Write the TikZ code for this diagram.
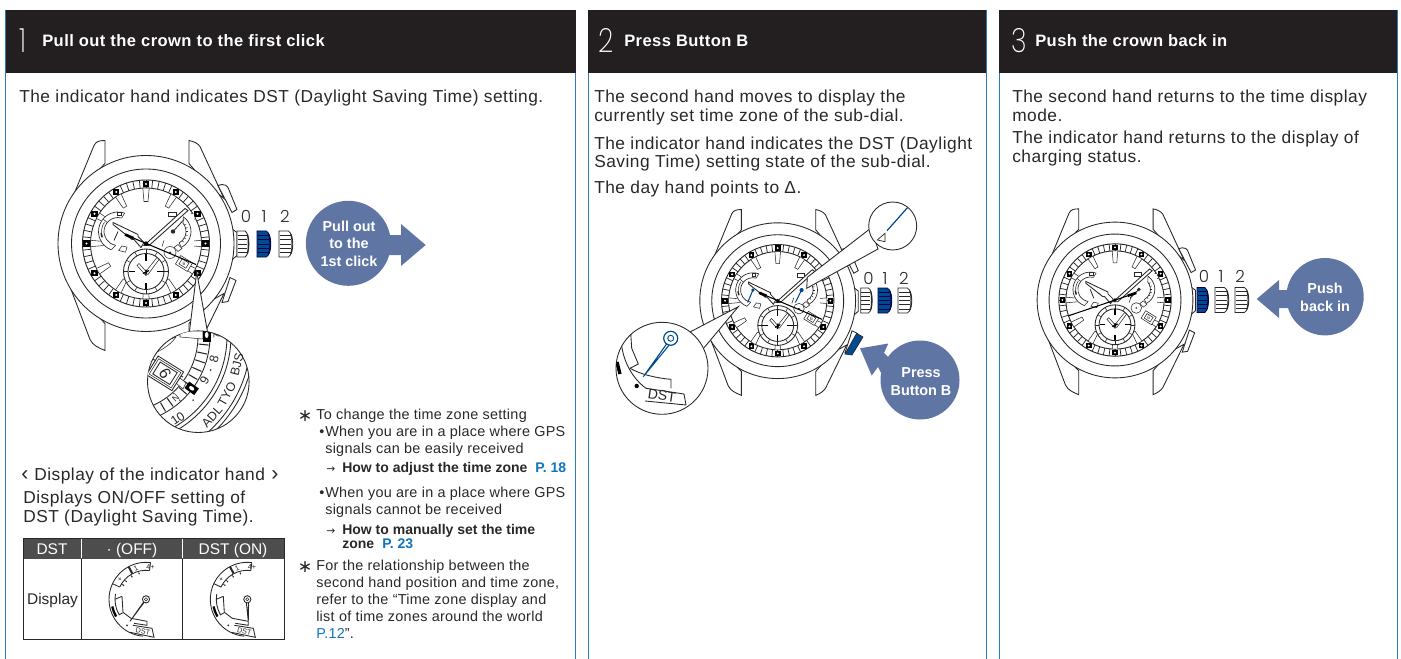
\documentclass[tikz,border=0pt]{standalone}
\usepackage{fontspec}
\usetikzlibrary{calc}
\setmainfont{Liberation Sans}
\IfFontExistsTF{Poppins ExtraLight}{\newfontfamily\thinf{Poppins ExtraLight}}{\newfontfamily\thinf{Liberation Sans}}
\IfFontExistsTF{Poppins Light}{\newfontfamily\lightf{Poppins Light}}{\newfontfamily\lightf{Liberation Sans}}
\newfontfamily\dv{DejaVu Sans}
\definecolor{pborder}{HTML}{2B7BBA}
\definecolor{phead}{HTML}{231F20}
\definecolor{pblue}{HTML}{5F76A4}
\definecolor{cblue}{HTML}{004A8F}
\definecolor{ink}{HTML}{2A2728}
\definecolor{thead}{HTML}{4D4D4D}
\definecolor{plink}{HTML}{0F75BC}
\newcounter{tn}
\tikzset{
  txt/.style={anchor=base west,inner sep=0pt,text=ink,yshift=-.75pt,font=\fontsize{13}{14}\selectfont\addfontfeature{LetterSpace=2.9}},
  notetxt/.style={anchor=base west,inner sep=0pt,text=ink,font=\fontsize{10.8}{12}\selectfont\addfontfeature{LetterSpace=2.0}},
  titl/.style={anchor=base west,inner sep=0pt,text=white,font=\fontsize{12.4}{14}\selectfont\bfseries\addfontfeature{LetterSpace=2.6}},
  digit/.style={anchor=base,inner sep=0pt,text=white,xscale=.8,font=\thinf\fontsize{25}{25}\selectfont},
  crownlbl/.style={anchor=base,inner sep=0pt,text=ink,font=\lightf\fontsize{12.5}{14}\selectfont},
  btn/.style={align=center,inner sep=0pt,text=white,font=\fontsize{10.8}{13.2}\selectfont\bfseries},
  tinytxt/.style={inner sep=0pt,text=ink,font=\fontsize{5.4}{6}\selectfont},
  wl/.style={draw=ink,line width=.65pt},
  tl/.style={draw=ink,line width=.4pt},
  dl/.style={draw=ink,line width=.65pt},
}
\newcommand{\tx}[4][txt]{\stepcounter{tn}\node[#1] (tx\arabic{tn}) at (#2,#3) {#4};}
% crown: left x, centre y, width, height, fill, line
\newcommand{\crownshape}[6]{%
  \begin{scope}[shift={(#1,#2)}]
    \filldraw[fill=#5,draw=#6,line width=.6pt] (0,-#4/2) -- (#3*.62,-#4/2) .. controls (#3*1.02,-#4/2+3) and (#3*1.02,#4/2-3) .. (#3*.62,#4/2) -- (0,#4/2) -- cycle;
    \foreach \yy in {-.34,-.17,0,.17,.34}{\draw[draw=#6,line width=.7pt] (0.5,\yy*#4) -- (#3*.78,\yy*#4);}
    \draw[draw=#6,line width=.9pt] (#3*.8,-#4*.38) .. controls (#3*.9,-#4*.15) and (#3*.9,#4*.15) .. (#3*.8,#4*.38);
  \end{scope}}
% watch: cx cy scale tipx tipy tailx taily extra
\newcommand{\watch}[8]{%
 \begin{scope}[shift={(#1,#2)},scale=#3]
  % lugs
  \draw[wl,fill=white] (-41,-80) -- (-41,-103) .. controls (-47,-103) and (-50,-102) .. (-52,-98) -- (-80,-30) -- (-60,-60) -- cycle;
  \draw[wl,fill=white] (-41,80) -- (-41,107) .. controls (-48,104) and (-53,102) .. (-56,96) -- (-81,30) -- (-60,60) -- cycle;
  \draw[wl,fill=white] (43,-80) -- (43,-103) .. controls (48,-102) and (52,-100) .. (54,-97) -- (78,-45) -- (60,-60) -- cycle;
  \draw[wl,fill=white] (43,80) -- (43,107) .. controls (48,105) and (52,102) .. (54,99) -- (78,50) -- (60,60) -- cycle;
  % pushers
  \draw[wl,fill=white] (72,-58) -- (76,-59) .. controls (79,-59) and (81,-58) .. (82,-56) -- (91,-34) -- (86,-31) -- cycle;
  \draw[wl,fill=white] (84,34) -- (90,37) -- (82,58) -- (76,59) -- cycle;
  % stem
  \draw[wl,fill=white] (84,-16) -- (91,-11) -- (91,12) -- (84,18) -- cycle;
  % case
  \filldraw[wl,fill=white] (0,0) circle (88);
  \draw[wl] (0,0) circle (74.5);
  % bezel ring
  \draw[wl,line width=.7pt] (0,0) circle (63.5);
  \draw[wl] (0,0) circle (55.5);
  \foreach \a in {0,6,...,354}{\draw[draw=ink,line width=.55pt] (\a:55.5) -- (\a:63.5);}
  \foreach \a in {0,30,...,330}{
    \fill[black] (\a:59.5) ++(-3.2,-3.2) rectangle ++(6.4,6.4);
    \fill[white] (\a:59.5) circle (1.2);}
  % batons
  \foreach \a in {270,300,30,90,120,150,180,240,330,0,60,210}{
    \begin{scope}[rotate=-\a]
      \draw[tl,fill=white] (55.5,-3.2) -- (42,-2) -- (42,2) -- (55.5,3.2) -- cycle;
    \end{scope}}
  % left subdial
  \begin{scope}[shift={(-28,-12)}]
    \fill[white] (0,0) circle (20);
    \draw[tl,line width=.5pt] (110:19.5) arc[start angle=110,end angle=290,radius=19.5];
    \draw[tl,line width=.5pt] (100:14) arc[start angle=100,end angle=285,radius=14];
    \draw[tl] (160:16.5) arc[start angle=160,end angle=215,radius=16.5];
    \draw[tl] (285:14) -- (290:19.5) (100:14) -- (110:19.5) (75:15) -- (88:19) -- (70:22) -- (60:18) -- cycle;
    \draw[tl] (220:14) -- (220:19.5);
    \draw[line width=1pt,ink] (160:17) -- (175:17);
    \draw[tl,fill=white] (-1,-16) rectangle (3,-19);
  \end{scope}
  % right subdial
  \begin{scope}[shift={(27,-12)}]
    \fill[white] (-6,-17) rectangle (21,22);
    \draw[tl,line width=.5pt] (-55:18) arc[start angle=-55,end angle=62,radius=18];
    \draw[tl,line width=.5pt] (-40:13) arc[start angle=-40,end angle=62,radius=13];
    \foreach \a in {-30,-15,0,15,30,45}{\draw[tl] (\a:13) -- (\a:15);}
    \draw[tl] (62:13) -- (62:18) (-55:18) -- (-40:13);
    \draw[tl,fill=white] (-5,-19) rectangle (3,-15);
    \draw[tl,fill=white] (5,13) -- (9,17) -- (5,20) -- (1,16) -- cycle;
  \end{scope}
  % small circle
  \draw[tl,fill=white] (24,9) circle (6);
  \fill[ink] (24,9) circle (1);
  \draw[tl] (16,3) -- (18,-3);
  % date window
  \begin{scope}[shift={(38,20)},rotate=-32]
    \draw[tl,fill=white] (-7,-5) rectangle (7,5);
    \draw[tl] (-4,-3) rectangle (4,3);
    \stepcounter{tn}\node[inner sep=0pt,font=\fontsize{3.6}{4}\selectfont,text=ink] (tx\arabic{tn}) at (0,0) {6};
  \end{scope}
  % bottom subdial
  \begin{scope}[shift={(0,28)}]
    \filldraw[wl,fill=white] (0,0) circle (22.5);
    \draw[wl] (0,0) circle (18);
    \foreach \a in {0,30,...,330}{\draw[tl] (\a:18) -- (\a:22.5);}
    \foreach \a in {0,90,180,270}{\draw[draw=black,line width=1pt] (\a:11) -- (\a:17.5);}
    \draw[tl,fill=white] (-1,1) -- (11,-14) -- (13,-12) -- (2,3) -- cycle;
    \draw[tl,fill=white] (1,1) -- (-7,-8) -- (-9,-6) -- (-1,3) -- cycle;
    \draw[draw=black,line width=.9pt] (-3,2) -- (3,-1) (0,-2) -- (0,4);
  \end{scope}
  % hands
  \draw[wl,fill=white] (-2,2) -- (39,-35) -- (42,-33) -- (3,2) -- cycle;
  \draw[wl,fill=white] (-33,-21) -- (-8,-9) -- (-8,-7) -- (-2,-1) -- (-5,4) -- (-12,-4) -- (-14,-4) -- (-33,-19) -- cycle;
  #8
  \draw[draw=black,line width=.8pt] (#4,#5) -- (#6,#7);
  \draw[draw=black,line width=2pt] (#6,#7) -- ($(#6,#7)!.4!(0,0)$);
  \fill[black] (0,0) circle (2.2);
 \end{scope}}
\newcommand{\dstdial}[3]{%
 \begin{scope}[shift={(#1,#2)}]
  \draw[dl] (95:37) arc[start angle=95,end angle=277,radius=37];
  \draw[dl] (205:29) arc[start angle=205,end angle=277,radius=29];
  \draw[dl] (277:29) -- (277:37);
  \draw[draw=ink,line width=1.5pt] (242:29) -- (242:37);
  \draw[dl] (205:29) -- (205:37);
  \foreach \a in {255,238,222,212}{\fill[ink] (\a:26.5) circle (.8); \draw[tl] (\a:26.5) -- (\a:29);}
  \stepcounter{tn}\node[tinytxt] (tx\arabic{tn}) at (278:32.8) {4+};
  \stepcounter{tn}\node[tinytxt,rotate=25] (tx\arabic{tn}) at (252:32.5) {1};
  \stepcounter{tn}\node[tinytxt,rotate=50] (tx\arabic{tn}) at (218:32.8) {+};
  \draw[dl] (190:31) arc[start angle=190,end angle=150,radius=31] -- (150:27);
  \draw[dl] (180:31) -- (-24,-3);
  \draw[dl] (-24,-3) -- (-23,13) -- (-15,19) -- (1,22) -- (1,26) -- (-12,24);
  \draw[draw=black,line width=1.7pt] (168:34.5) arc[start angle=168,end angle=150,radius=34.5];
  \fill[ink] (-19,26) circle (1);
  \draw[dl] (-13,26) -- (6,29) -- (8,38) -- (-16,33);
  \stepcounter{tn}\node[tinytxt,rotate=-10] (tx\arabic{tn}) at (-3,32) {DST};
  \draw[dl,fill=white] (1.2,-1) -- (#3) -- (-1.2,1) -- cycle;
  \draw[dl,fill=white] (0,0) circle (3.6);
  \draw[tl] (0,0) circle (1.6);
 \end{scope}}
\begin{document}
\begin{tikzpicture}[x=.75pt,y=-.75pt]
\useasboundingbox (0,0) rectangle (1401,659);
% panels
\foreach \xa/\xb in {5.5/575.5,588/986,999/1397}{
  \draw[draw=pborder,line width=.7pt] (\xa,659) -- (\xa,10) -- (\xb,10) -- (\xb,659);
  \fill[phead] (\xa,10) rectangle (\xb,73);
}
\tx[digit]{23}{53}{1}
\tx[titl]{42}{47}{Pull out the crown to the first click}
\tx[digit]{606}{53}{2}
\tx[titl]{624}{47}{Press Button B}
\tx[digit]{1019}{53}{3}
\tx[titl]{1035}{47}{Push the crown back in}
\tx{19}{102}{The indicator hand indicates DST (Daylight Saving Time) setting.}
\tx{594}{102}{The second hand moves to display the}
\tx{594}{121}{currently set time zone of the sub-dial.}
\tx{594}{149}{The indicator hand indicates the DST (Daylight}
\tx{594}{167}{Saving Time) setting state of the sub-dial.}
\tx{594}{193}{The day hand points to Δ.}
\tx{1012}{102}{The second hand returns to the time display}
\tx{1012}{121}{mode.}
\tx{1012}{143}{The indicator hand returns to the display of}
\tx{1012}{162}{charging status.}
% watch 1
\watch{146}{243.5}{1}{50}{21}{-21}{-9}{%
  \draw[draw=ink,line width=.6pt] (-28,-12) -- (-32,-3);
  \draw[draw=ink,line width=.6pt] (27,-12) -- (38,-24);
  \fill[ink] (27,-12) circle (2.2);}
\crownshape{237}{244}{13}{26}{white}{ink}
\crownshape{257}{244}{15}{26}{cblue}{black!70!blue}
\crownshape{279}{244}{15}{26}{white}{ink}
\tx[crownlbl]{246}{223}{0}
\tx[crownlbl]{264}{223}{1}
\tx[crownlbl]{285}{223}{2}
\fill[pblue] (348.3,243.3) circle (42.5);
\fill[pblue] (380,235) -- (401,235) -- (401,224) -- (425.7,245) -- (401,266) -- (401,255) -- (380,255) -- cycle;
\node[btn] (b1) at (349,243.5) {Pull out\\to the\\1st click};
% inset 1
\draw[wl,fill=white] (196.7,272) -- (189.3,333) -- (207.7,333) -- cycle;
\filldraw[wl,fill=white] (198.3,381.7) circle (50.8);
\begin{scope}
  \clip (198.3,381.7) circle (50.8);
  \draw[wl] (122,336) circle (76);
  \draw[wl] (122,336) circle (88);
  \draw[wl] (122,336) circle (105);
  \draw[wl] (122,336) circle (109);
  \draw[wl] (122,336) circle (129);
  \draw[wl] (122,336) circle (133);
  \foreach \a in {6,12,...,78}{\draw[draw=ink,line width=.8pt] ($(122,336)+(\a:77)$) -- ($(122,336)+(\a:87)$);}
  \draw[tl,fill=white] (180,331) -- (203,331) -- (203,339) -- (180,337) -- cycle;
  \fill[black] (202.7,329.5) rectangle (210.7,341.5);
  \fill[white] (206.7,335) ellipse (1.8 and 3);
  \begin{scope}[shift={(191.7,388.3)},rotate=-36]
    \fill[black] (-6,-4) rectangle (6,4);
    \fill[white] (0,0) ellipse (3 and 1.8);
  \end{scope}
  \draw[tl,fill=white] (186,383) -- (180,378) -- (176,383) -- (183,389) -- cycle;
  \draw[wl] (141,352) -- (183,377);
  \begin{scope}[shift={(165,373.3)},rotate=-32]
    \draw[wl,fill=white] (-15,-11) rectangle (15,11);
    \draw[tl] (-13,-9) rectangle (13,9);
    \draw[wl] (-10,-7) rectangle (10,7);
    \stepcounter{tn}\node[inner sep=0pt,rotate=-60,font=\fontsize{12}{12}\selectfont,text=ink] (tx\arabic{tn}) at (0,0) {6};
  \end{scope}
  \draw[tl] (155,350) .. controls (162,342) and (170,339) .. (176,337);
  \draw[tl] (157,352) .. controls (165,348) and (172,343) .. (176,337);
  \fill[ink] ($(122,336)+(21:95)$) circle (.9);
  \fill[ink] ($(122,336)+(42:95.7)$) circle (.9);
\end{scope}
\tikzset{insettxt/.style={inner sep=0pt,text=ink,font=\fontsize{9.3}{10}\selectfont}}
\node[insettxt,rotate=76] (i1) at ($(122,336)+(14:118.6)$) {BJS};
\node[insettxt,rotate=61] (i2) at ($(122,336)+(29:120)$) {TYO};
\node[insettxt,rotate=48] (i3) at ($(122,336)+(42:121)$) {ADL};
\node[insettxt,rotate=76] (i4) at ($(122,336)+(14:95)$) {8};
\node[insettxt,rotate=61] (i5) at ($(122,336)+(28.5:94)$) {9};
\node[insettxt,rotate=34] (i6) at ($(122,336)+(56:99.6)$) {10};
\node[insettxt,rotate=90,font=\fontsize{6.5}{7}\selectfont] (i9) at ($(122,336)+(0:94.7)$) {7};
\node[insettxt,rotate=42,font=\fontsize{6.5}{7}\selectfont,fill=white,inner sep=.5pt] (i10) at ($(122,336)+(49:82)$) {N};
% indicator display
\tikzset{brk/.style={anchor=base west,inner sep=0pt,text=ink,font=\fontsize{16}{16}\selectfont}}
\tx[brk]{21}{480.5}{‹}
\tx{34}{479.5}{Display of the indicator hand}
\tx[brk]{271}{480.5}{›}
\tx{23}{502.5}{Displays ON/OFF setting of}
\tx{23}{521}{DST (Daylight Saving Time).}
\fill[thead] (23,538) rectangle (284,559);
\draw[draw=ink,line width=.7pt] (23,538) rectangle (284,639.5);
\draw[draw=ink,line width=.7pt] (81,559) -- (81,639.5) (182,559) -- (182,639.5);
\draw[draw=white,line width=.7pt] (81,539) -- (81,558) (182,539) -- (182,558);
\tikzset{tcell/.style={inner sep=0pt,anchor=base,font=\fontsize{11.6}{14}\selectfont}}
\node[tcell,text=white] (h1) at (52,554) {DST};
\node[tcell,text=white] (h2) at (132,554) {· (OFF)};
\node[tcell,text=white] (h3) at (233,554) {DST (ON)};
\node[tcell,text=ink] (h4) at (52.5,604.5) {Display};
\dstdial{146}{599.3}{-16,22}
\dstdial{247.3}{599.3}{1,22}
% notes
\tikzset{nb/.style={notetxt,font=\fontsize{10.5}{12}\selectfont\bfseries},nl/.style={notetxt,text=plink,font=\fontsize{10.5}{12}\selectfont\bfseries},
 astx/.style={anchor=base west,inner sep=0pt,text=ink,font=\dv\fontsize{13}{14}\selectfont},
 arr/.style={anchor=base west,inner sep=0pt,text=ink,font=\dv\fontsize{8}{10}\selectfont}}
\tx[astx]{297.5}{421.5}{∗}
\tx[notetxt]{316}{419.5}{To change the time zone setting}
\tx[notetxt]{319}{436.5}{•}
\tx[notetxt]{325}{436.5}{When you are in a place where GPS}
\tx[notetxt]{325}{453.5}{signals can be easily received}
\tx[arr]{326}{472.5}{→}
\tx[nb]{342}{472.5}{How to adjust the time zone}
\tx[nl]{535}{472.5}{P. 18}
\tx[notetxt]{319}{497.5}{•}
\tx[notetxt]{325}{497.5}{When you are in a place where GPS}
\tx[notetxt]{325}{514.5}{signals cannot be received}
\tx[arr]{326}{534}{→}
\tx[nb]{342}{534}{How to manually set the time}
\tx[nb]{342}{548}{zone}
\tx[nl]{382}{548}{P. 23}
\tx[astx]{297.5}{572.5}{∗}
\tx[notetxt]{316}{570.5}{For the relationship between the}
\tx[notetxt]{316}{587.5}{second hand position and time zone,}
\tx[notetxt]{316}{604.5}{refer to the “Time zone display and}
\tx[notetxt]{316}{621.5}{list of time zones around the world}
\tx[notetxt]{316}{638}{\textcolor{plink}{P.12}”.}
% watch 2
\watch{777.7}{300.7}{.885}{50}{21}{-21}{-9}{%
  \draw[draw=cblue,line width=.8pt] (-28,-12) -- (-34,2);
  \fill[cblue] (-28,-12) circle (2);
  \draw[draw=cblue,line width=.8pt] (27,-12) -- (20,2);
  \fill[cblue] (27,-12) circle (2.4);}
\crownshape{860.7}{300.5}{12.5}{25}{white}{ink}
\crownshape{878}{300.5}{15}{25}{cblue}{black!70!blue}
\crownshape{898}{300.5}{15}{25}{white}{ink}
\tx[crownlbl]{868.5}{284}{0}
\tx[crownlbl]{885}{284}{1}
\tx[crownlbl]{904}{284}{2}
\filldraw[draw=ink,line width=.5pt,fill=cblue] (856.7,333.3) -- (863,337) -- (852,355) -- (845,354) -- cycle;
\fill[pblue] (920,380) circle (39.5);
\fill[pblue] (860,348.3) -- (888.3,343.5) -- (884,353) -- (900,368) -- (890,390) -- (878,367) -- (871.7,375.5) -- cycle;
\node[btn] (b2) at (921,381.5) {Press\\Button B};
% inset 3 (top right)
\draw[wl,fill=white] (807.3,277.3) -- (871,228) -- (878,249) -- (806.7,288.3) -- cycle;
\filldraw[wl,fill=white] (892.7,226) circle (24);
\begin{scope}
  \clip (892.7,226) circle (24);
  \draw[draw=ink,line width=.55pt] (877.3,240) -- (885,233.3) -- (885,241.7) -- cycle;
  \draw[draw=cblue,line width=.9pt] (887,230.7) -- (908.3,206.7);
\end{scope}
% inset 2 (bottom left)
\draw[wl,fill=white] (738.3,306.7) -- (690,332) -- (703,349) -- cycle;
\filldraw[wl,fill=white] (662,368.3) circle (46);
\begin{scope}
  \clip (662,368.3) circle (46);
  \draw[wl] (630.7,333.3) -- (631.7,348.3) -- (638.3,364) -- (630,368.3);
  \draw[wl] (630,368.3) .. controls (640,374) and (655,378) .. (671,379.3) -- (671,388.3);
  \draw[wl] (621.7,346) .. controls (624,362) and (632,378) .. (646,388.3);
  \draw[wl] (646,388.3) -- (684,394) -- (686,405);
  \draw[wl] (686,405) -- (645,401);
  \draw[draw=black,line width=2.5pt] (617,362) -- (620,374);
  \fill[black] (636.7,386) circle (2.2);
\end{scope}
\node[inner sep=0pt,rotate=-8,text=ink,font=\fontsize{10.5}{12}\selectfont] (dst2) at (662,395.5) {DST};
\draw[draw=cblue,line width=.8pt,fill=white] (643.3,376.7) -- (668,342) -- (670,344) -- cycle;
\draw[draw=cblue,line width=.9pt,fill=white] (670.7,338.3) circle (7);
\draw[draw=cblue,line width=.7pt] (670.7,338.3) circle (3);
% watch 3
\watch{1115}{300}{.885}{-53}{18}{24}{-8}{%
  \draw[draw=ink,line width=.6pt] (-28,-12) -- (-24,-2);
  \draw[draw=ink,line width=.6pt] (27,-12) -- (17,-2);
  \fill[ink] (27,-12) circle (2.2);}
\crownshape{1197}{300}{12.5}{25}{cblue}{black!70!blue}
\crownshape{1215}{300}{15}{25}{white}{ink}
\crownshape{1235}{300}{15}{25}{white}{ink}
\tx[crownlbl]{1204}{282.5}{0}
\tx[crownlbl]{1221}{282.5}{1}
\tx[crownlbl]{1240}{282.5}{2}
\fill[pblue] (1325,296.7) circle (38.7);
\fill[pblue] (1256.7,299) -- (1279,280) -- (1279,290) -- (1295,290) -- (1295,308) -- (1279,308) -- (1279,318) -- cycle;
\node[btn] (b3) at (1325,297.5) {Push\\back in};
\end{tikzpicture}
\end{document}
